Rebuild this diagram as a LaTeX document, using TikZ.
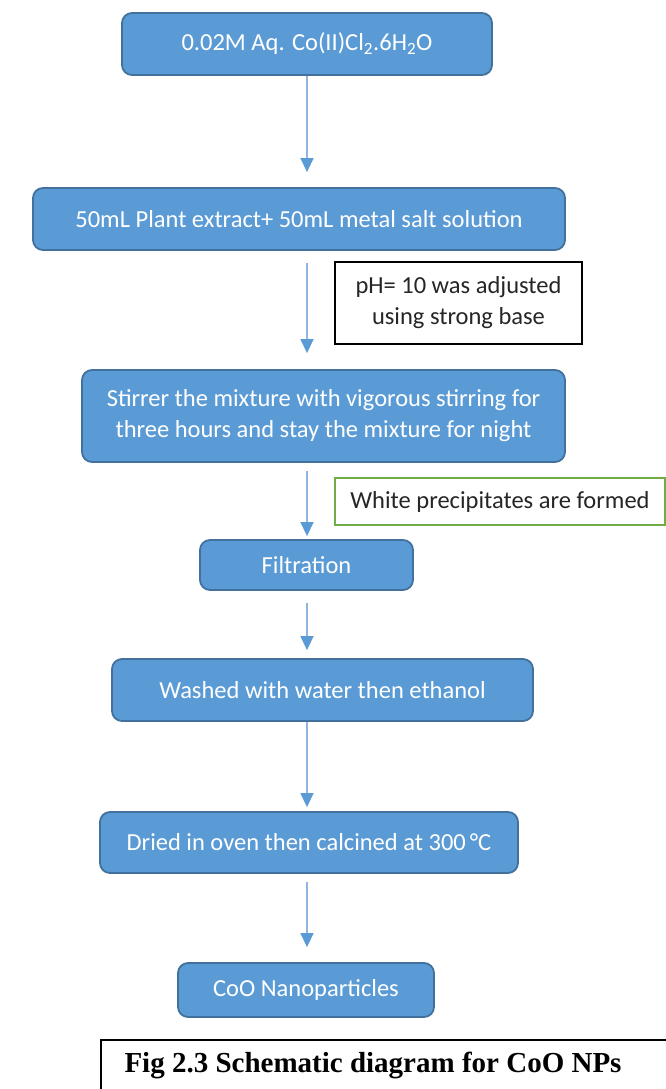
\documentclass[tikz,border=0pt]{standalone}
\usepackage{fontspec}
\setmainfont{Carlito}
\newfontfamily\capfont{Liberation Serif}
\usetikzlibrary{arrows.meta}
\definecolor{boxfill}{HTML}{5B9BD5}
\definecolor{boxline}{HTML}{41719C}
\definecolor{arrline}{HTML}{8FB5E0}
\definecolor{arrhead}{HTML}{5B9BD5}
\definecolor{greenline}{HTML}{70AD47}
\tikzset{
  stepbox/.style={draw=boxline, line width=1.8pt, fill=boxfill, rounded corners=10pt,
    text=white, align=center, inner sep=0pt, font=\fontsize{24.5}{31}\selectfont},
  notebox/.style={draw=black, line width=1.8pt, fill=white, align=center, inner sep=0pt,
    text=black!85, font=\fontsize{24.5}{31}\selectfont},
  greenbox/.style={draw=greenline, line width=1.5pt, fill=white, align=center, inner sep=0pt,
    text=black!85, font=\fontsize{24.5}{31}\selectfont},
  flowarrow/.style={draw=arrline, line width=1.4pt,
    -{Triangle[width=13pt,length=14pt,color=arrhead]}}
}
\begin{document}
\begin{tikzpicture}[x=1pt,y=-1pt]
\useasboundingbox (0,0) rectangle (666,1089);
\coordinate (ax) at (307,0);
\node[stepbox, minimum width=370pt, minimum height=62pt] (b1) at (307,44)
  {0.02M Aq. Co(II)Cl\textsubscript{2}.6H\textsubscript{2}O};
\node[stepbox, minimum width=532pt, minimum height=62pt] (b2) at (299,219)
  {50mL Plant extract+ 50mL metal salt solution};
\node[notebox, minimum width=247pt, minimum height=82pt] (ph) at (458.5,303)
  {pH= 10 was adjusted\\using strong base};
\node[stepbox, minimum width=483pt, minimum height=92pt] (b3) at (323.5,416)
  {Stirrer the mixture with vigorous stirring for\\three hours and stay the mixture for night};
\node[greenbox, minimum width=330pt, minimum height=47pt] (wp) at (500,501.5)
  {White precipitates are formed};
\node[stepbox, minimum width=213pt, minimum height=50pt] (b4) at (306.5,565)
  {Filtration};
\node[stepbox, minimum width=421pt, minimum height=62pt] (b5) at (322.5,690)
  {Washed with water then ethanol};
\node[stepbox, minimum width=418pt, minimum height=61pt] (b6) at (309,842.5)
  {Dried in oven then calcined at 300\,°C};
\node[stepbox, minimum width=256pt, minimum height=54pt] (b7) at (306,990)
  {CoO Nanoparticles};
\draw[flowarrow, shorten >=15pt] (b1.south -| ax) -- (b2.north -| ax);
\draw[flowarrow, shorten <=12pt, shorten >=16pt] (b2.south -| ax) -- (b3.north -| ax);
\draw[flowarrow, shorten <=8pt, shorten >=3pt] (b3.south -| ax) -- (b4.north -| ax);
\draw[flowarrow, shorten <=12pt, shorten >=8pt] (b4.south -| ax) -- (b5.north -| ax);
\draw[flowarrow, shorten >=4pt] (b5.south -| ax) -- (b6.north -| ax);
\draw[flowarrow, shorten <=8pt, shorten >=15pt] (b6.south -| ax) -- (b7.north -| ax);
\node[draw=black, line width=1.5pt, minimum width=572pt, minimum height=58pt, anchor=north west,
  inner sep=0pt] (cap) at (100,1039) {};
\node[anchor=base, inner sep=0pt, font=\capfont\bfseries\fontsize{29}{34}\selectfont] (captext) at (373,1072)
  {Fig 2.3 Schematic diagram for CoO NPs};
\end{tikzpicture}
\end{document}
